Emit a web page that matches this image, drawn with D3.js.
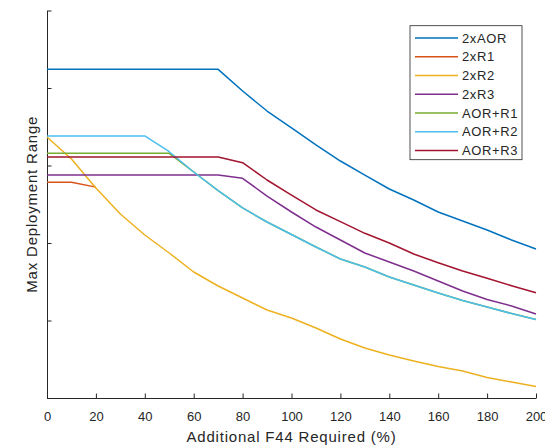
<!DOCTYPE html>
<html>
<head>
<meta charset="utf-8">
<script src="https://cdn.jsdelivr.net/npm/d3@7"></script>
<style>
  html, body { margin: 0; padding: 0; background: #fff; }
  svg { display: block; }
  text { font-family: "Liberation Sans", Arial, Helvetica, sans-serif; fill: #262626; }
</style>
</head>
<body>
<svg id="chart" width="545" height="448"></svg>
<script>
// ---- data ----
const xValues = [0,10,20,30,40,50,60,70,80,90,100,110,120,130,140,150,160,170,180,190,200];
const xTicks = [0,20,40,60,80,100,120,140,160,180,200];
const yTicks = [0,1,2,3,4,5];
const seriesNames = ["2xAOR","2xR1","2xR2","2xR3","AOR+R1","AOR+R2","AOR+R3"];
const seriesColors = ["#0072BD","#D95319","#EDB120","#7E2F8E","#77AC30","#4DBEEE","#A2142F"];

const s2xAOR = [4.241,4.241,4.241,4.241,4.241,4.241,4.241,4.241,3.961,3.703,3.484,3.265,3.058,2.877,2.697,2.555,2.400,2.284,2.168,2.039,1.923];
const s2xR1x = [0,10,20];
const s2xR1 = [2.785,2.785,2.721];
const s2xR2 = [3.368,3.084,2.710,2.374,2.103,1.871,1.626,1.445,1.290,1.135,1.032,0.903,0.761,0.645,0.555,0.477,0.406,0.348,0.265,0.206,0.148];
const s2xR3 = [2.877,2.877,2.877,2.877,2.877,2.877,2.877,2.877,2.835,2.606,2.400,2.206,2.039,1.871,1.755,1.639,1.510,1.381,1.271,1.187,1.084];
const sAORR1 = [3.157,3.157,3.157,3.157,3.157,3.157,2.916,2.677,2.452,2.271,2.110,1.948,1.794,1.690,1.561,1.458,1.355,1.258,1.174,1.090,1.013];
const sAORR2 = [3.381,3.381,3.381,3.381,3.381,3.178,2.916,2.677,2.452,2.271,2.110,1.948,1.794,1.690,1.561,1.458,1.355,1.258,1.174,1.090,1.013];
const sAORR3 = [3.110,3.110,3.110,3.110,3.110,3.110,3.110,3.110,3.036,2.813,2.619,2.426,2.275,2.125,2.000,1.858,1.745,1.639,1.545,1.449,1.359];

const seriesX = [xValues, s2xR1x, xValues, xValues, xValues, xValues, xValues];
const seriesY = [s2xAOR, s2xR1, s2xR2, s2xR3, sAORR1, sAORR2, sAORR3];

// ---- layout ----
const svg = d3.select("#chart");
const pLeft = 47, pRight = 536, pTop = 10.5, pBottom = 398;
const x = d3.scaleLinear().domain([0,200]).range([pLeft,pRight]);
const y = d3.scaleLinear().domain([0,5]).range([pBottom,pTop]);

// axes
const xAxis = d3.axisBottom(x).tickValues(xTicks).tickFormat(d3.format("d"))
  .tickSizeInner(-4.5).tickSizeOuter(0).tickPadding(14);
const gx = svg.append("g").attr("transform", `translate(0,${pBottom})`).call(xAxis);
const yAxis = d3.axisLeft(y).tickValues(yTicks).tickFormat("")
  .tickSizeInner(-4.5).tickSizeOuter(0);
const gy = svg.append("g").attr("transform", `translate(${pLeft},0)`).call(yAxis);
[gx, gy].forEach(g => {
  g.select(".domain").attr("stroke", "#262626").attr("stroke-width", 1);
  g.selectAll(".tick line").attr("stroke", "#262626").attr("stroke-width", 1);
  g.selectAll(".tick text").attr("font-size", 13).attr("fill", "#262626")
    .attr("font-family", '"Liberation Sans", Arial, sans-serif');
});
gx.selectAll(".tick text").attr("dy", 0).attr("y", 22.5);

// lines
const line = d3.line().x(d => x(d[0])).y(d => y(d[1]));
seriesNames.forEach((name, i) => {
  const pts = seriesX[i].map((xv, j) => [xv, seriesY[i][j]]);
  svg.append("path").datum(pts)
    .attr("d", line)
    .attr("fill", "none")
    .attr("stroke", seriesColors[i])
    .attr("stroke-width", 1.5)
    .attr("stroke-linejoin", "round");
});

// axis labels
svg.append("text")
  .attr("x", (pLeft + pRight) / 2).attr("y", 442)
  .attr("text-anchor", "middle").attr("font-size", 15).attr("letter-spacing", 0.8)
  .text("Additional F44 Required (%)");
svg.append("text")
  .attr("transform", `translate(37,${(pTop + pBottom) / 2}) rotate(-90)`)
  .attr("text-anchor", "middle").attr("font-size", 15).attr("letter-spacing", 0.8)
  .text("Max Deployment Range");

// legend
const lg = svg.append("g");
const lgX = 410, lgY = 25.7, lgW = 112, lgH = 134, rowStart = 38, rowStep = 18.75;
lg.append("rect").attr("x", lgX).attr("y", lgY).attr("width", lgW).attr("height", lgH)
  .attr("fill", "#fff").attr("stroke", "#262626").attr("stroke-width", 0.8);
seriesNames.forEach((name, i) => {
  const ry = rowStart + i * rowStep;
  lg.append("line").attr("x1", 415).attr("x2", 458).attr("y1", ry).attr("y2", ry)
    .attr("stroke", seriesColors[i]).attr("stroke-width", 1.5);
  lg.append("text").attr("x", 462).attr("y", ry + 4.6)
    .attr("font-size", 13).attr("letter-spacing", 0.6).text(name);
});
</script>
</body>
</html>
